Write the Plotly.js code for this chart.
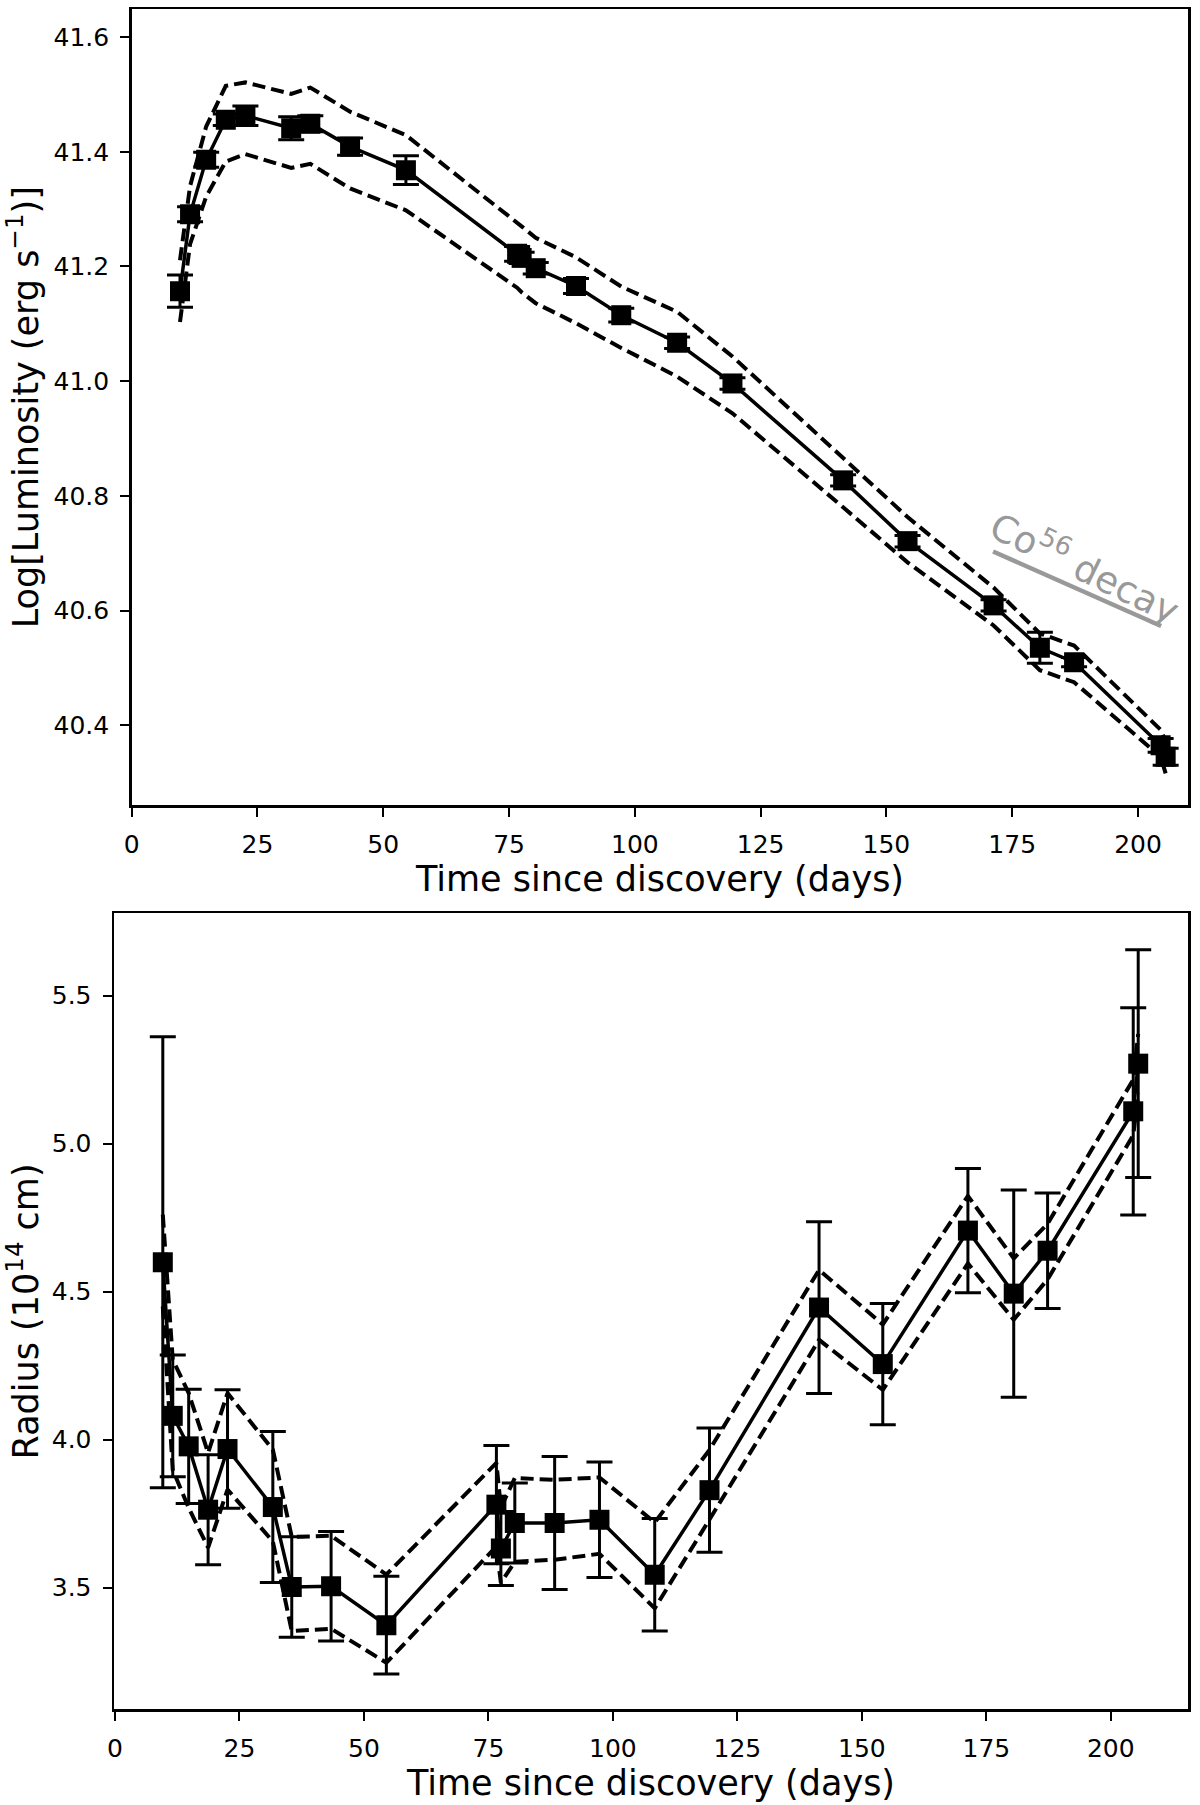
<!DOCTYPE html>
<html>
<head>
<meta charset="utf-8">
<script src="https://cdn.plot.ly/plotly-3.0.1.min.js"></script>
<style>html,body{margin:0;padding:0;background:#fff;}#chart{width:1200px;height:1805px;}</style>
</head>
<body>
<div id="chart"></div>
<script>
// Epochs (days since discovery)
const days = [9.6, 11.6, 14.8, 18.7, 22.6, 31.7, 35.5, 43.4, 54.5, 76.6, 77.5, 80.3, 88.3, 97.3, 108.4, 119.4, 141.4, 154.2, 171.3, 180.5, 187.3, 204.5, 205.5];

// Top panel: log luminosity
const logL     = [41.157, 41.291, 41.386, 41.456, 41.463, 41.441, 41.449, 41.409, 41.368, 41.222, 41.215, 41.197, 41.166, 41.115, 41.067, 40.996, 40.827, 40.721, 40.609, 40.535, 40.510, 40.365, 40.345];
const logLErr  = [0.028, 0.013, 0.013, 0.010, 0.017, 0.020, 0.014, 0.015, 0.025, 0.013, 0.010, 0.010, 0.013, 0.012, 0.010, 0.010, 0.010, 0.010, 0.010, 0.027, 0.008, 0.012, 0.015];
const logLUp   = [41.211, 41.340, 41.444, 41.515, 41.521, 41.501, 41.512, 41.470, 41.429, 41.278, 41.270, 41.250, 41.216, 41.165, 41.121, 41.043, 40.865, 40.763, 40.640, 40.560, 40.539, 40.392, 40.372];
const logLLow  = [41.103, 41.239, 41.322, 41.383, 41.396, 41.372, 41.379, 41.336, 41.298, 41.163, 41.155, 41.136, 41.101, 41.058, 41.008, 40.944, 40.780, 40.684, 40.574, 40.496, 40.475, 40.345, 40.316];

// Bottom panel: radius (1e14 cm)
const radius    = [4.599, 4.080, 3.977, 3.763, 3.968, 3.772, 3.502, 3.504, 3.373, 3.780, 3.632, 3.718, 3.718, 3.729, 3.543, 3.829, 4.446, 4.255, 4.706, 4.493, 4.638, 5.109, 5.270];
const radiusErr = [0.762, 0.206, 0.193, 0.186, 0.200, 0.255, 0.170, 0.185, 0.165, 0.200, 0.125, 0.135, 0.225, 0.195, 0.190, 0.210, 0.290, 0.205, 0.210, 0.350, 0.195, 0.350, 0.385];
const radiusUp  = [4.760, 4.270, 4.157, 3.955, 4.157, 3.966, 3.671, 3.675, 3.544, 3.921, 3.770, 3.870, 3.864, 3.872, 3.720, 3.965, 4.573, 4.389, 4.823, 4.612, 4.729, 5.216, 5.370];
const radiusLow = [4.450, 3.898, 3.769, 3.635, 3.831, 3.656, 3.353, 3.361, 3.246, 3.639, 3.516, 3.587, 3.594, 3.614, 3.430, 3.730, 4.337, 4.168, 4.595, 4.405, 4.541, 5.028, 5.170];

// Co56 decay guide line (days, log L)
const coDays = [171.2, 204.6];
const coLogL = [40.703, 40.573];
const coLabel = "Co<sup>56</sup> decay";

const FONT = "DejaVu Sans, Liberation Sans, sans-serif";
const dashStyle = {color: "black", width: 4, dash: "13px,6px"};

function dataTrace(x, y, err, xa, ya) {
  return {
    x: x, y: y, xaxis: xa, yaxis: ya, type: "scatter", mode: "lines+markers",
    line: {color: "black", width: 3.5},
    marker: {symbol: "square", size: 20, color: "black"},
    error_y: {type: "data", array: err, visible: true, color: "black", thickness: 3, width: 13},
    hoverinfo: "skip"
  };
}
function dashTrace(x, y, xa, ya) {
  return {x: x, y: y, xaxis: xa, yaxis: ya, type: "scatter", mode: "lines", line: dashStyle, hoverinfo: "skip"};
}

const traces = [
  dashTrace(days, logLUp, "x", "y"),
  dashTrace(days, logLLow, "x", "y"),
  dataTrace(days, logL, logLErr, "x", "y"),
  {x: coDays, y: coLogL, xaxis: "x", yaxis: "y", type: "scatter", mode: "lines",
   line: {color: "#999999", width: 4.5}, hoverinfo: "skip"},
  dashTrace(days, radiusUp, "x2", "y2"),
  dashTrace(days, radiusLow, "x2", "y2"),
  dataTrace(days, radius, radiusErr, "x2", "y2")
];

const axisCommon = {
  showline: true, mirror: true, linecolor: "black", linewidth: 2.5,
  ticks: "outside", ticklen: 9, tickwidth: 2, tickcolor: "black",
  showgrid: false, zeroline: false,
  tickfont: {family: FONT, size: 25, color: "black"},
  ticklabelstandoff: 6
};

const layout = {
  width: 1200, height: 1805,
  margin: {l: 0, r: 0, t: 0, b: 0},
  paper_bgcolor: "white", plot_bgcolor: "white",
  showlegend: false,
  font: {family: FONT, color: "black"},
  xaxis: Object.assign({}, axisCommon, {
    domain: [0.10975, 0.99025], range: [0, 210], anchor: "y",
    tickmode: "linear", tick0: 0, dtick: 25,
    title: {text: "Time since discovery (days)", font: {family: FONT, size: 35, color: "black"}, standoff: 5}
  }),
  yaxis: Object.assign({}, axisCommon, {
    domain: [0.55374, 0.99501], range: [40.26, 41.649], anchor: "x",
    tickmode: "linear", tick0: 40.4, dtick: 0.2, tickformat: ".1f",
    title: {text: "Log[Luminosity (erg s<sup>−1</sup>)]", font: {family: FONT, size: 35, color: "black"}, standoff: 14}
  }),
  xaxis2: Object.assign({}, axisCommon, {
    domain: [0.095, 0.99], range: [-0.2, 215.5], anchor: "y2",
    tickmode: "linear", tick0: 0, dtick: 25,
    title: {text: "Time since discovery (days)", font: {family: FONT, size: 35, color: "black"}, standoff: 5}
  }),
  yaxis2: Object.assign({}, axisCommon, {
    domain: [0.05291, 0.49402], range: [3.088, 5.778], anchor: "x2",
    tickmode: "linear", tick0: 3.5, dtick: 0.5, tickformat: ".1f",
    title: {text: "Radius (10<sup>14</sup> cm)", font: {family: FONT, size: 35, color: "black"}, standoff: 14}
  }),
  annotations: [{
    xref: "x", yref: "y", x: 189.5, y: 40.676, text: coLabel, showarrow: false,
    textangle: 26, xanchor: "center", yanchor: "middle",
    font: {family: FONT, size: 37, color: "#999999"}
  }]
};

Plotly.newPlot("chart", traces, layout, {staticPlot: true});
</script>
</body>
</html>
